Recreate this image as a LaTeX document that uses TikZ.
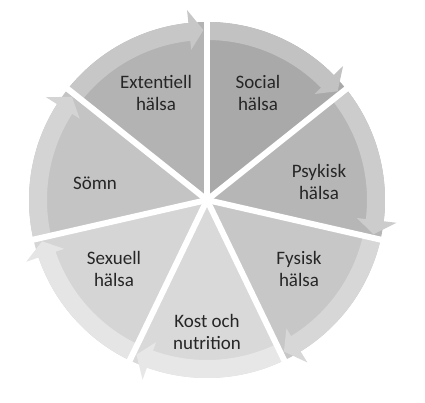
\documentclass[tikz,border=0pt]{standalone}
\usepackage{fontspec}
\setmainfont{Carlito}
\usepackage{tikz}

\definecolor{socPie}{HTML}{A9A9A9}
\definecolor{socArr}{HTML}{C2C2C2}
\definecolor{psyPie}{HTML}{B6B6B6}
\definecolor{psyArr}{HTML}{CCCCCC}
\definecolor{fysPie}{HTML}{C7C7C7}
\definecolor{fysArr}{HTML}{D7D7D7}
\definecolor{kosPie}{HTML}{D9D9D9}
\definecolor{kosArr}{HTML}{E7E7E7}
\definecolor{sexPie}{HTML}{D5D5D5}
\definecolor{sexArr}{HTML}{E5E5E5}
\definecolor{somPie}{HTML}{C4C4C4}
\definecolor{somArr}{HTML}{D4D4D4}
\definecolor{extPie}{HTML}{B3B3B3}
\definecolor{extArr}{HTML}{C7C7C7}

\tikzset{
    segtext/.style={align=center, text=black!85, inner sep=0pt},
    gapline/.style={white, line width=6}
}

\begin{document}
\begin{tikzpicture}[x=1pt, y=1pt, every node/.style={font=\fontsize{19}{21.5}\selectfont}]
    \useasboundingbox (-207,-202) rectangle (218,200);
    % wedges and their arrows, clockwise from the top
    \foreach \i/\pc/\ac in {0/socPie/socArr, 1/psyPie/psyArr, 2/fysPie/fysArr, 3/kosPie/kosArr,
                            4/sexPie/sexArr, 5/somPie/somArr, 6/extPie/extArr} {
        \pgfmathsetmacro\as{90-\i*360/7}
        \pgfmathsetmacro\ae{\as-360/7}
        \pgfmathsetmacro\ah{\ae+6}
        \pgfmathsetmacro\at{\ae+1.2}
        \fill[\pc] (0,0) -- (\as:178) arc[start angle=\as, end angle=\ae, radius=178] -- cycle;
        \fill[\ac] (\as:160) arc[start angle=\as, end angle=\ah, radius=160]
            -- (\ah:151) -- (\at:170) -- (\ah:191) -- (\ah:178)
            arc[start angle=\ah, end angle=\as, radius=178] -- cycle;
    }
    \foreach \i in {0,...,6} {
        \draw[gapline] (0,0) -- (90-\i*360/7:186);
    }
    \node[segtext] (social) at (51,107) {Social\\hälsa};
    \node[segtext] (psykisk) at (112,18) {Psykisk\\hälsa};
    \node[segtext] (fysisk) at (92,-69) {Fysisk\\hälsa};
    \node[segtext] (kost) at (0,-132) {Kost och\\nutrition};
    \node[segtext] (sexuell) at (-93,-69) {Sexuell\\hälsa};
    \node[segtext] (somn) at (-112,17) {Sömn};
    \node[segtext] (extentiell) at (-51,107) {Extentiell\\hälsa};
\end{tikzpicture}
\end{document}
